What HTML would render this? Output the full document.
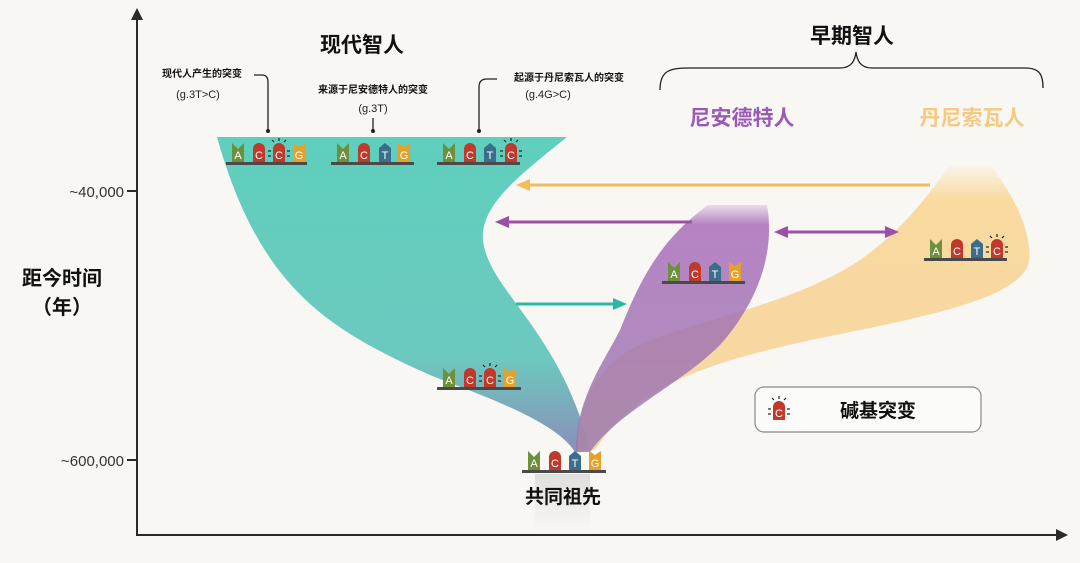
<!DOCTYPE html>
<html><head><meta charset="utf-8"><style>
html,body{margin:0;padding:0;background:#f8f7f4;}
svg{display:block;font-family:"Liberation Sans","Noto Sans CJK SC",sans-serif;}
.b{fill:#fff;font-size:11px;text-anchor:middle;font-family:"Liberation Sans",sans-serif;}
.ray{stroke:#222;stroke-width:1.2;}
</style></head><body>
<svg width="1080" height="563" viewBox="0 0 1080 563" xmlns="http://www.w3.org/2000/svg">
<defs>
<linearGradient id="tg" x1="0" y1="0" x2="0" y2="1">
<stop offset="0" stop-color="#5fcfbd"/><stop offset="0.7" stop-color="#6cc9bf"/><stop offset="1" stop-color="#8a8fb8"/></linearGradient>
<linearGradient id="pg" x1="0" y1="0" x2="0" y2="1">
<stop offset="0" stop-color="#a86bb8" stop-opacity="0.2"/><stop offset="0.08" stop-color="#a86bb8" stop-opacity="0.9"/><stop offset="1" stop-color="#9a7ab0" stop-opacity="0.9"/></linearGradient>
<linearGradient id="og" x1="0" y1="0" x2="0" y2="1">
<stop offset="0" stop-color="#fadba0" stop-opacity="0.1"/><stop offset="0.12" stop-color="#f9d89a" stop-opacity="0.95"/><stop offset="1" stop-color="#f5cf90" stop-opacity="0.8"/></linearGradient>
<linearGradient id="sh" x1="0" y1="0" x2="0" y2="1">
<stop offset="0" stop-color="#ccc" stop-opacity="0.6"/><stop offset="1" stop-color="#ddd" stop-opacity="0"/></linearGradient>
</defs>
<rect width="1080" height="563" fill="#f8f7f4"/>
<rect x="535" y="474" width="55" height="60" fill="url(#sh)"/>
<!-- teal -->
<path d="M217,137 L567,137 C520,175 480,205 483,240 C488,290 560,330 590,450 L575,452 C555,420 480,395 430,375 C330,330 260,290 217,137 Z" fill="url(#tg)"/>
<!-- orange -->
<path d="M950,165 L990,165 C1015,195 1035,240 1028,265 C1015,300 920,318 820,338 C720,360 640,380 595,450 L578,452 C575,400 600,360 650,340 C720,315 800,300 860,260 C900,232 925,200 950,165 Z" fill="url(#og)"/>
<!-- purple -->
<path d="M708,205 L767,205 C775,250 760,300 720,345 C680,385 620,410 590,452 L576,452 C575,400 605,360 620,330 C640,280 660,240 708,205 Z" fill="url(#pg)" opacity="0.92"/>
<!-- axes -->
<line x1="137" y1="12" x2="137" y2="535" stroke="#2a2a2a" stroke-width="2"/>
<path d="M131,20 L137,8 L143,20 Z" fill="#2a2a2a"/>
<line x1="136" y1="535" x2="1062" y2="535" stroke="#2a2a2a" stroke-width="2"/>
<path d="M1056,529 L1068,535 L1056,541 Z" fill="#2a2a2a"/>
<line x1="127" y1="191" x2="137" y2="191" stroke="#2a2a2a" stroke-width="2"/>
<line x1="127" y1="460" x2="137" y2="460" stroke="#2a2a2a" stroke-width="2"/>
<text x="124" y="197" font-size="15" fill="#333" text-anchor="end">~40,000</text>
<text x="124" y="466" font-size="15" fill="#333" text-anchor="end">~600,000</text>
<text x="62" y="285" font-size="20" font-weight="bold" text-anchor="middle" fill="#111">距今时间</text>
<text x="62" y="314" font-size="20" font-weight="bold" text-anchor="middle" fill="#111">（年）</text>
<text x="362" y="52" font-size="21" font-weight="bold" text-anchor="middle" fill="#111">现代智人</text>
<text x="852" y="43" font-size="21" font-weight="bold" text-anchor="middle" fill="#111">早期智人</text>
<path d="M660,90 C660,70 670,68 690,68 L840,68 C852,68 855,60 856,52 C857,60 860,68 872,68 L1025,68 C1040,68 1043,75 1043,88" fill="none" stroke="#222" stroke-width="1.3"/>
<text x="742" y="125" font-size="21" font-weight="bold" text-anchor="middle" fill="#9b59b6">尼安德特人</text>
<text x="972" y="125" font-size="21" font-weight="bold" text-anchor="middle" fill="#f5c97f">丹尼索瓦人</text>
<text x="563" y="503" font-size="19" font-weight="bold" text-anchor="middle" fill="#111">共同祖先</text>
<text x="202" y="77" font-size="10" font-weight="bold" text-anchor="middle" fill="#111">现代人产生的突变</text>
<text x="198" y="98" font-size="11" text-anchor="middle" fill="#222">(g.3T&gt;C)</text>
<path d="M254,75 L262,75 Q268,75 268,82 L268,130" fill="none" stroke="#222" stroke-width="1.3"/><circle cx="268" cy="131" r="2" fill="#222"/>
<text x="373" y="93" font-size="10" font-weight="bold" text-anchor="middle" fill="#111">来源于尼安德特人的突变</text>
<text x="373" y="112" font-size="11" text-anchor="middle" fill="#222">(g.3T)</text>
<line x1="373" y1="118" x2="373" y2="131" stroke="#222" stroke-width="1.3"/><circle cx="373" cy="131" r="2" fill="#222"/>
<text x="569" y="81" font-size="10" font-weight="bold" text-anchor="middle" fill="#111">起源于丹尼索瓦人的突变</text>
<text x="548" y="98" font-size="11" text-anchor="middle" fill="#222">(g.4G&gt;C)</text>
<path d="M497,79 L487,79 Q479,79 479,87 L479,130" fill="none" stroke="#222" stroke-width="1.3"/><circle cx="479" cy="131" r="2" fill="#222"/>
<line x1="930" y1="185" x2="528" y2="185" stroke="#f2bd5a" stroke-width="3"/>
<path d="M530,179 L516,185 L530,191 Z" fill="#f2bd5a"/>
<line x1="692" y1="222" x2="507" y2="222" stroke="#9b4fa8" stroke-width="3"/>
<path d="M509,216 L495,222 L509,228 Z" fill="#9b4fa8"/>
<line x1="785" y1="232" x2="888" y2="232" stroke="#9b4fa8" stroke-width="3"/>
<path d="M788,226 L774,232 L788,238 Z" fill="#9b4fa8"/><path d="M885,226 L899,232 L885,238 Z" fill="#9b4fa8"/>
<line x1="516" y1="304" x2="615" y2="304" stroke="#2bb8a2" stroke-width="3"/>
<path d="M613,298 L627,304 L613,310 Z" fill="#2bb8a2"/>
<g transform="translate(226,162)">
<rect x="0" y="0" width="81" height="3" fill="#4a4a4a"/>
<path d="M6,0 V-19 L12,-13 L18,-19 V0Z" fill="#6e8f3c"/><text class="b" x="12" y="-3">A</text>
<path d="M27,0 V-13 A6,6 0 0 1 39,-13 V0Z" fill="#c0392b"/><text class="b" x="33" y="-3">C</text>
<path d="M47,0 V-13 A6,6 0 0 1 59,-13 V0Z" fill="#c0392b"/><text class="b" x="53" y="-3">C</text>
<g class="ray"><line x1="42" y1="-6" x2="45" y2="-6"/><line x1="42" y1="-11" x2="45" y2="-11"/><line x1="61" y1="-6" x2="64" y2="-6"/><line x1="61" y1="-11" x2="64" y2="-11"/><line x1="53" y1="-21" x2="53" y2="-24"/><line x1="48" y1="-20" x2="46" y2="-22"/><line x1="58" y1="-20" x2="60" y2="-22"/></g>
<path d="M67,0 V-19 L73,-15 L79,-19 V0Z" fill="#e5a12a"/><text class="b" x="73" y="-3">G</text>
</g>
<g transform="translate(331,162)">
<rect x="0" y="0" width="83" height="3" fill="#4a4a4a"/>
<path d="M6,0 V-19 L12,-13 L18,-19 V0Z" fill="#6e8f3c"/><text class="b" x="12" y="-3">A</text>
<path d="M27,0 V-13 A6,6 0 0 1 39,-13 V0Z" fill="#c0392b"/><text class="b" x="33" y="-3">C</text>
<path d="M48,0 V-14 L54,-19 L60,-14 V0Z" fill="#3b6e8a"/><text class="b" x="54" y="-3">T</text>
<path d="M67,0 V-19 L73,-15 L79,-19 V0Z" fill="#e5a12a"/><text class="b" x="73" y="-3">G</text>
</g>
<g transform="translate(437,162)">
<rect x="0" y="0" width="83" height="3" fill="#4a4a4a"/>
<path d="M6,0 V-19 L12,-13 L18,-19 V0Z" fill="#6e8f3c"/><text class="b" x="12" y="-3">A</text>
<path d="M27,0 V-13 A6,6 0 0 1 39,-13 V0Z" fill="#c0392b"/><text class="b" x="33" y="-3">C</text>
<path d="M47,0 V-14 L53,-19 L59,-14 V0Z" fill="#3b6e8a"/><text class="b" x="53" y="-3">T</text>
<path d="M68,0 V-13 A6,6 0 0 1 80,-13 V0Z" fill="#c0392b"/><text class="b" x="74" y="-3">C</text>
<g class="ray"><line x1="63" y1="-6" x2="66" y2="-6"/><line x1="63" y1="-11" x2="66" y2="-11"/><line x1="82" y1="-6" x2="85" y2="-6"/><line x1="82" y1="-11" x2="85" y2="-11"/><line x1="74" y1="-21" x2="74" y2="-24"/><line x1="69" y1="-20" x2="67" y2="-22"/><line x1="79" y1="-20" x2="81" y2="-22"/></g>
</g>
<g transform="translate(437,387)">
<rect x="0" y="0" width="84" height="3" fill="#4a4a4a"/>
<path d="M6,0 V-19 L12,-13 L18,-19 V0Z" fill="#6e8f3c"/><text class="b" x="12" y="-3">A</text>
<path d="M27,0 V-13 A6,6 0 0 1 39,-13 V0Z" fill="#c0392b"/><text class="b" x="33" y="-3">C</text>
<path d="M47,0 V-13 A6,6 0 0 1 59,-13 V0Z" fill="#c0392b"/><text class="b" x="53" y="-3">C</text>
<g class="ray"><line x1="42" y1="-6" x2="45" y2="-6"/><line x1="42" y1="-11" x2="45" y2="-11"/><line x1="61" y1="-6" x2="64" y2="-6"/><line x1="61" y1="-11" x2="64" y2="-11"/><line x1="53" y1="-21" x2="53" y2="-24"/><line x1="48" y1="-20" x2="46" y2="-22"/><line x1="58" y1="-20" x2="60" y2="-22"/></g>
<path d="M67,0 V-19 L73,-15 L79,-19 V0Z" fill="#e5a12a"/><text class="b" x="73" y="-3">G</text>
</g>
<g transform="translate(522,470)">
<rect x="0" y="0" width="84" height="3" fill="#4a4a4a"/>
<path d="M6,0 V-19 L12,-13 L18,-19 V0Z" fill="#6e8f3c"/><text class="b" x="12" y="-3">A</text>
<path d="M27,0 V-13 A6,6 0 0 1 39,-13 V0Z" fill="#c0392b"/><text class="b" x="33" y="-3">C</text>
<path d="M47,0 V-14 L53,-19 L59,-14 V0Z" fill="#3b6e8a"/><text class="b" x="53" y="-3">T</text>
<path d="M67,0 V-19 L73,-15 L79,-19 V0Z" fill="#e5a12a"/><text class="b" x="73" y="-3">G</text>
</g>
<g transform="translate(662,281)">
<rect x="0" y="0" width="83" height="3" fill="#4a4a4a"/>
<path d="M6,0 V-19 L12,-13 L18,-19 V0Z" fill="#6e8f3c"/><text class="b" x="12" y="-3">A</text>
<path d="M27,0 V-13 A6,6 0 0 1 39,-13 V0Z" fill="#c0392b"/><text class="b" x="33" y="-3">C</text>
<path d="M47,0 V-14 L53,-19 L59,-14 V0Z" fill="#3b6e8a"/><text class="b" x="53" y="-3">T</text>
<path d="M67,0 V-19 L73,-15 L79,-19 V0Z" fill="#e5a12a"/><text class="b" x="73" y="-3">G</text>
</g>
<g transform="translate(924,258)">
<rect x="0" y="0" width="83" height="3" fill="#4a4a4a"/>
<path d="M6,0 V-19 L12,-13 L18,-19 V0Z" fill="#6e8f3c"/><text class="b" x="12" y="-3">A</text>
<path d="M27,0 V-13 A6,6 0 0 1 39,-13 V0Z" fill="#c0392b"/><text class="b" x="33" y="-3">C</text>
<path d="M47,0 V-14 L53,-19 L59,-14 V0Z" fill="#3b6e8a"/><text class="b" x="53" y="-3">T</text>
<path d="M67,0 V-13 A6,6 0 0 1 79,-13 V0Z" fill="#c0392b"/><text class="b" x="73" y="-3">C</text>
<g class="ray"><line x1="62" y1="-6" x2="65" y2="-6"/><line x1="62" y1="-11" x2="65" y2="-11"/><line x1="81" y1="-6" x2="84" y2="-6"/><line x1="81" y1="-11" x2="84" y2="-11"/><line x1="73" y1="-21" x2="73" y2="-24"/><line x1="68" y1="-20" x2="66" y2="-22"/><line x1="78" y1="-20" x2="80" y2="-22"/></g>
</g>
<rect x="755" y="387" width="226" height="45" rx="9" fill="#fbfbf9" stroke="#888" stroke-width="1.2"/>
<g transform="translate(773,420)">
<path d="M0,0 V-13 A6,6 0 0 1 12,-13 V0Z" fill="#c0392b"/><text class="b" x="6" y="-3">C</text>
<g class="ray"><line x1="-5" y1="-6" x2="-2" y2="-6"/><line x1="-5" y1="-11" x2="-2" y2="-11"/><line x1="14" y1="-6" x2="17" y2="-6"/><line x1="14" y1="-11" x2="17" y2="-11"/><line x1="6" y1="-21" x2="6" y2="-24"/><line x1="1" y1="-20" x2="-1" y2="-22"/><line x1="11" y1="-20" x2="13" y2="-22"/></g>
</g>
<text x="878" y="417" font-size="19" font-weight="bold" text-anchor="middle" fill="#111">碱基突变</text>
</svg>
</body></html>
